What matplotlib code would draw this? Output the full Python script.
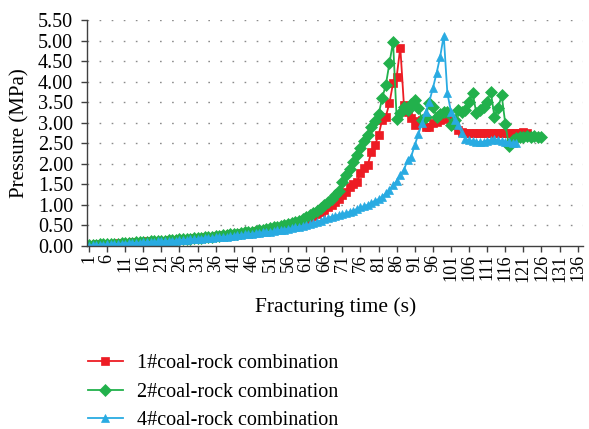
import numpy as np
import matplotlib
matplotlib.use('Agg')
import matplotlib.pyplot as plt

plt.rcParams['font.family'] = 'Liberation Serif'
plt.rcParams['font.size'] = 14.5

## Pressure readings (MPa), one value per second
p_1 = [0.03, 0.03, 0.04, 0.04, 0.05, 0.05, 0.06, 0.06, 0.07, 0.07,
       0.08, 0.08, 0.09, 0.09, 0.10, 0.10, 0.11, 0.11, 0.12, 0.12,
       0.13, 0.13, 0.14, 0.15, 0.15, 0.16, 0.17, 0.17, 0.18, 0.19,
       0.19, 0.20, 0.21, 0.22, 0.23, 0.24, 0.25, 0.26, 0.27, 0.28,
       0.29, 0.30, 0.31, 0.32, 0.33, 0.34, 0.36, 0.37, 0.39, 0.40,
       0.42, 0.43, 0.45, 0.47, 0.49, 0.51, 0.53, 0.55, 0.58, 0.61,
       0.64, 0.68, 0.72, 0.77, 0.82, 0.88, 0.94, 1.00, 1.07, 1.15,
       1.25, 1.32, 1.44, 1.50, 1.56, 1.78, 1.90, 1.97, 2.29, 2.46,
       2.70, 3.07, 3.15, 3.48, 3.96, 4.12, 4.83, 3.43, 3.27, 3.11,
       2.94, 3.05, 3.07, 2.90, 2.90, 2.99, 3.02, 3.07, 3.10, 3.11,
       3.05, 2.94, 2.82, 2.78, 2.76, 2.75, 2.75, 2.74, 2.75, 2.75,
       2.74, 2.75, 2.74, 2.74, 2.75, 2.74, 2.74, 2.75, 2.76, 2.76,
       2.77, 2.76]
p_2 = [0.02, 0.03, 0.03, 0.04, 0.04, 0.05, 0.05, 0.06, 0.06, 0.07,
       0.07, 0.08, 0.08, 0.09, 0.09, 0.10, 0.10, 0.11, 0.11, 0.12,
       0.12, 0.13, 0.14, 0.14, 0.15, 0.16, 0.16, 0.17, 0.18, 0.19,
       0.19, 0.20, 0.21, 0.22, 0.23, 0.24, 0.25, 0.26, 0.27, 0.28,
       0.29, 0.30, 0.31, 0.33, 0.34, 0.35, 0.37, 0.38, 0.40, 0.41,
       0.43, 0.45, 0.47, 0.49, 0.51, 0.54, 0.56, 0.59, 0.62, 0.66,
       0.70, 0.75, 0.80, 0.86, 0.92, 0.99, 1.07, 1.15, 1.24, 1.35,
       1.55, 1.72, 1.88, 2.05, 2.21, 2.38, 2.55, 2.70, 2.90, 3.05,
       3.20, 3.60, 3.92, 4.45, 4.97, 3.10, 3.23, 3.38, 3.30, 3.45,
       3.56, 3.35, 3.07, 3.15, 3.47, 3.38, 3.15, 3.22, 3.26, 3.26,
       2.94, 3.07, 3.31, 3.25, 3.31, 3.51, 3.72, 3.23, 3.32, 3.39,
       3.51, 3.75, 3.15, 3.35, 3.67, 2.98, 2.44, 2.58, 2.64, 2.66,
       2.66, 2.67, 2.66, 2.67, 2.66, 2.65]
p_4 = [0.01, 0.02, 0.02, 0.03, 0.03, 0.04, 0.04, 0.05, 0.05, 0.06,
       0.06, 0.07, 0.07, 0.08, 0.08, 0.09, 0.09, 0.10, 0.10, 0.11,
       0.11, 0.12, 0.12, 0.13, 0.13, 0.14, 0.15, 0.15, 0.16, 0.17,
       0.17, 0.18, 0.19, 0.19, 0.20, 0.21, 0.22, 0.22, 0.23, 0.24,
       0.25, 0.26, 0.27, 0.28, 0.29, 0.30, 0.31, 0.32, 0.33, 0.34,
       0.35, 0.36, 0.38, 0.39, 0.40, 0.42, 0.43, 0.45, 0.47, 0.49,
       0.51, 0.53, 0.56, 0.59, 0.62, 0.65, 0.68, 0.71, 0.73, 0.76,
       0.78, 0.80, 0.83, 0.86, 0.90, 0.94, 0.97, 1.00, 1.05, 1.10,
       1.14, 1.20, 1.28, 1.36, 1.48, 1.58, 1.73, 1.85, 2.09, 2.17,
       2.46, 2.72, 3.00, 3.27, 3.51, 3.84, 4.20, 4.60, 5.12, 3.72,
       3.27, 3.07, 2.94, 2.75, 2.60, 2.57, 2.55, 2.54, 2.53, 2.54,
       2.56, 2.58, 2.60, 2.57, 2.55, 2.54, 2.52, 2.51, 2.51]

labels = ['1#coal-rock combination', '2#coal-rock combination', '4#coal-rock combination']
colors = ['#ED1C24', '#22B14C', '#29ABE2']
markers = ['s', 'D', '^']
msizes = [6.0, 6.0, 5.5]
tick_vals = list(range(1, 137, 5))

fig = plt.figure(figsize=(5.89, 4.29), dpi=100)
ax = fig.add_axes([0.148, 0.4266, 0.842, 0.5268])

for vals, lab, c, m, ms in zip([p_1, p_2, p_4], labels, colors, markers, msizes):
    t = np.arange(1, len(vals) + 1)
    ax.plot(t, vals, color=c, marker=m, markersize=ms, markeredgewidth=0.5,
            lw=1.3, label=lab)

ax.set_xlim(0.5, 137.5)
ax.set_ylim(0, 5.5)
ax.set_yticks(np.arange(0, 5.51, 0.5))
ax.set_yticklabels(['%.2f' % v for v in np.arange(0, 5.51, 0.5)])
ax.set_xticks(tick_vals)
ax.set_xticklabels([str(v) for v in tick_vals], rotation=90)
ax.tick_params(direction='out', length=4, width=1, color='#404040')
ax.tick_params(axis='y', labelsize=14.5, pad=6)
ax.tick_params(axis='x', labelsize=13, pad=2)

for y in np.arange(0.5, 5.51, 0.5):
    ax.axhline(y, color='#8c8c8c', lw=1, ls=(0, (1.2, 7.5)), zorder=0)

for s in ['top', 'right']:
    ax.spines[s].set_visible(False)
for s in ['left', 'bottom']:
    ax.spines[s].set_color('#404040')
    ax.spines[s].set_linewidth(1)

ax.set_ylabel('Pressure (MPa)', fontsize=15, labelpad=6)
ax.set_xlabel('Fracturing time (s)', fontsize=15.5, labelpad=11)

fig.legend(loc='upper left', bbox_to_anchor=(0.15, 0.174), frameon=False,
           fontsize=14.5, handlelength=1.7, handletextpad=0.7, labelspacing=0.45,
           borderaxespad=0, borderpad=0)

fig.savefig('out.png', dpi=100)
